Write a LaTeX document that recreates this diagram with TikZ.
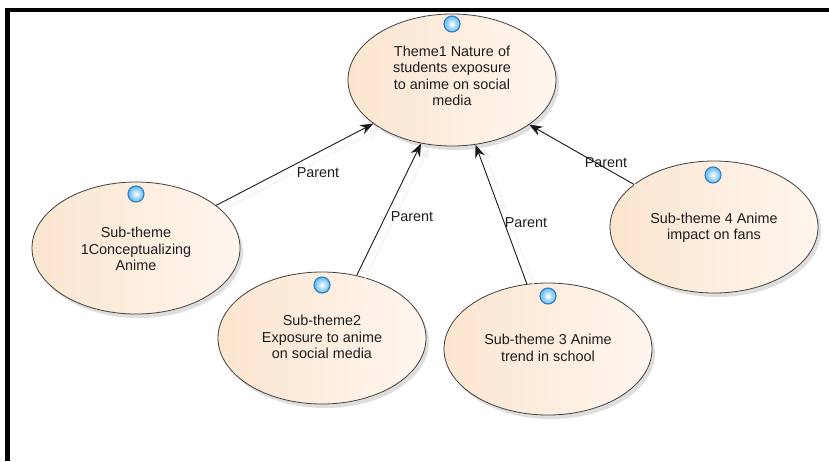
\documentclass[tikz,border=0pt]{standalone}
\usepackage{fontspec}
\setmainfont{Liberation Sans}
\usetikzlibrary{shapes.geometric,arrows.meta,shadows}
\definecolor{peachA}{HTML}{FBE5CF}
\definecolor{peachB}{HTML}{FFF6EE}
\definecolor{txt}{HTML}{1E1E1E}
\definecolor{iconline}{HTML}{2F7CC8}
\definecolor{iconball}{HTML}{5DB8F0}
\begin{document}
\begin{tikzpicture}[x=1pt,y=-1pt,
  bub/.style={ellipse, draw=black!75, line width=0.8pt, minimum width=208pt, minimum height=132pt, inner sep=0pt,
    left color=peachA, right color=peachB,
    drop shadow={shadow xshift=3pt, shadow yshift=-4pt, opacity=0.13, fill=black}},
  lbl/.style={align=center, font=\fontsize{14.4}{16.5}\selectfont, text=txt, inner sep=0pt},
  ico/.style={circle, minimum size=16pt, inner sep=0pt, draw=iconline, line width=1.1pt,
    inner color=white, outer color=iconball},
  rel/.style={draw=black!90, line width=0.9pt, -{Stealth[length=13pt,width=10pt]},
    preaction={draw=black!5, line width=1.2pt, transform canvas={xshift=8pt,yshift=-4pt}}},
  par/.style={font=\fontsize{14.4}{16.5}\selectfont, text=txt, inner sep=0pt}]
\useasboundingbox (0,0) rectangle (829,461);
\fill[white] (0,0) rectangle (829,461);
\draw[line width=4.5pt, line join=miter] (829,10) -- (7.5,10) -- (7.5,461);

% bubbles
\node[bub] (t0) at (452,80) {};
\node[bub] (s1) at (136,248) {};
\node[bub] (s2) at (322,338) {};
\node[bub] (s3) at (548,349) {};
\node[bub] (s4) at (714,227) {};

% connectors
\draw[rel] (s1.28) -- (t0.209);
\draw[rel] (s2.61) -- (t0.244);
\draw[rel] (s3.108) -- (t0.290);
\draw[rel] (s4.152) -- (t0.330);

% icons
\node[ico] (i0) at (452,24) {};
\node[ico] (i1) at (136,194) {};
\node[ico] (i2) at (322,285) {};
\node[ico] (i3) at (548,296) {};
\node[ico] (i4) at (713,175) {};

% texts
\node[lbl] (x0) at (452,76) {Theme1 Nature of\\students exposure\\to anime on social\\media};
\node[lbl] (x1) at (136,249) {Sub-theme\\1Conceptualizing\\Anime};
\node[lbl] (x2) at (322,337) {Sub-theme2\\Exposure to anime\\on social media};
\node[lbl] (x3) at (548,348) {Sub-theme 3 Anime\\trend in school};
\node[lbl] (x4) at (714,228) {Sub-theme 4 Anime\\impact on fans};

% labels
\node[par] (p1) at (318,173) {Parent};
\node[par] (p2) at (412,217) {Parent};
\node[par] (p3) at (526,223) {Parent};
\node[par] (p4) at (606,163) {Parent};
\end{tikzpicture}
\end{document}
